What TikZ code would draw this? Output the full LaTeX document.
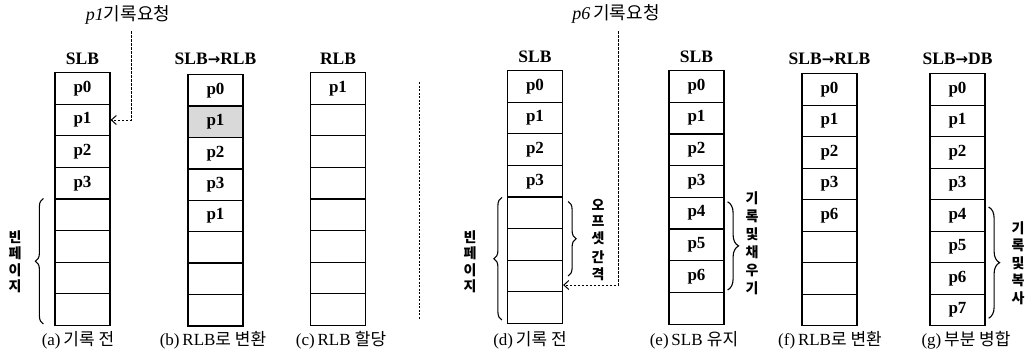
\documentclass[tikz,border=0pt]{standalone}
\usepackage{fontspec}
\setmainfont{Liberation Serif}
\newfontfamily\kr{Noto Sans CJK KR}
\newfontfamily\sym{DejaVu Sans}
\usetikzlibrary{arrows.meta,decorations.pathreplacing}
\newcommand{\arr}{{\sym\bfseries\fontsize{15}{16}\selectfont →}}
\begin{document}
\begin{tikzpicture}[x=1pt,y=-1pt,
  cell/.style={draw,line width=1.2pt,minimum width=55pt,minimum height=31.6pt,inner sep=0pt,anchor=north,font=\bfseries\fontsize{17}{19}\selectfont},
  hdr/.style={font=\bfseries\fontsize{17.5}{20}\selectfont,inner sep=0pt},
  captxt/.style={font=\fontsize{17}{19}\selectfont,inner sep=0pt},
  req/.style={dash pattern=on 2.5pt off 1.5pt,line width=1pt,-{Straight Barb[length=5pt,width=9pt]}},
  br/.style={decorate,decoration={brace,amplitude=8pt},line width=1.1pt},
  vt/.style={font=\kr\bfseries\fontsize{14}{16.5}\selectfont,align=center,inner sep=0pt},
  sep/.style={dash pattern=on 2pt off 1.5pt,line width=1pt}
]
\useasboundingbox (0,0) rectangle (1033,356);

% (a)
\foreach \i/\t in {0/p0,1/p1,2/p2,3/p3,4/,5/,6/,7/}
  \node[cell] (a\i) at (82.5,{72+31.6*\i}) {\t};
% (b)
\foreach \i/\t in {0/p0,1/p1,2/p2,3/p3,4/p1,5/,6/,7/}
  \node[cell] (b\i) at (215.5,{74+31.4*\i}) {\t};
\node[cell,fill=gray!30] (b1x) at (b1.north) {p1};
% (c)
\foreach \i/\t in {0/p1,1/,2/,3/,4/,5/,6/,7/}
  \node[cell] (c\i) at (338,{72+31.6*\i}) {\t};
% (d)
\foreach \i/\t in {0/p0,1/p1,2/p2,3/p3,4/,5/,6/,7/}
  \node[cell] (d\i) at (535,{70+31.6*\i}) {\t};
% (e)
\foreach \i/\t in {0/p0,1/p1,2/p2,3/p3,4/p4,5/p5,6/p6,7/}
  \node[cell] (e\i) at (696.5,{70+31.7*\i}) {\t};
% (f)
\foreach \i/\t in {0/p0,1/p1,2/p2,3/p3,4/p6,5/,6/,7/}
  \node[cell] (f\i) at (829.5,{73+31.5*\i}) {\t};
% (g)
\foreach \i/\t in {0/p0,1/p1,2/p2,3/p3,4/p4,5/p5,6/p6,7/p7}
  \node[cell] (g\i) at (957.5,{73+31.5*\i}) {\t};

% headers
\node[hdr] (ha) at (82.5,59) {SLB};
\node[hdr] (hb) at (215.5,59) {SLB\arr RLB};
\node[hdr] (hc) at (338,59) {RLB};
\node[hdr] (hd) at (535,57) {SLB};
\node[hdr] (he) at (696.5,57) {SLB};
\node[hdr] (hf) at (829.5,59) {SLB\arr RLB};
\node[hdr] (hg) at (957.5,59) {SLB\arr DB};

% captions
\node[captxt] (ca) at (78,340) {(a)\,{\kr 기록 전}};
\node[captxt] (cb) at (213,340) {(b)\,RLB{\kr 로 변환}};
\node[captxt] (cc) at (341,340) {(c)\,RLB {\kr 할당}};
\node[captxt] (cd) at (530,340) {(d)\,{\kr 기록 전}};
\node[captxt] (ce) at (694,340) {(e)\,SLB {\kr 유지}};
\node[captxt] (cf) at (830,340) {(f)\,RLB{\kr 로 변환}};
\node[captxt] (cg) at (966,340) {(g)\,{\kr 부분 병합}};

% request labels
\node[captxt,font=\fontsize{18}{20}\selectfont] (r1t) at (128,15) {\textit{p1}{\kr 기록요청}};
\node[captxt,font=\fontsize{18}{20}\selectfont] (r2t) at (616,14) {\textit{p6}\,{\kr 기록요청}};
\coordinate (r1) at (131,31);
\coordinate (r2) at (618,31);
\draw[req] (r1) |- (a1.east);
\draw[req] (r2) |- ([yshift=-9pt]d6.east);

% separator
\coordinate (s1) at (419,82);
\coordinate (s2) at (419,320);
\draw[sep] (s1) -- (s2);

% braces
\draw[br] ([xshift=-11pt,yshift=2pt]a7.south west) -- ([xshift=-11pt]a4.north west);
\node[vt] (ta) at (15,262) {빈\\페\\이\\지};
\draw[br] ([xshift=-5pt,yshift=4pt]d7.south west) -- ([xshift=-5pt,yshift=-1pt]d4.north west);
\node[vt] (td) at (470,262) {빈\\페\\이\\지};
\draw[br] ([xshift=5pt,yshift=-5pt]d4.north east) -- ([xshift=5pt]d6.east);
\node[vt] (td2) at (598,240) {오\\프\\셋\\[3pt]간\\격};
\draw[br,decoration={amplitude=11pt}] ([xshift=3pt,yshift=-5pt]e4.north east) -- ([xshift=3pt,yshift=3pt]e6.south east);
\node[vt,font=\kr\bfseries\fontsize{14}{18}\selectfont] (te) at (752,243) {기\\록\\및\\채\\우\\기};
\draw[br,decoration={amplitude=11pt}] ([xshift=3pt,yshift=-8pt]g4.north east) -- ([xshift=3pt,yshift=8pt]g7.south east);
\node[vt,font=\kr\bfseries\fontsize{14}{17.5}\selectfont] (tg) at (1018,263) {기\\록\\및\\복\\사};
\end{tikzpicture}
\end{document}
